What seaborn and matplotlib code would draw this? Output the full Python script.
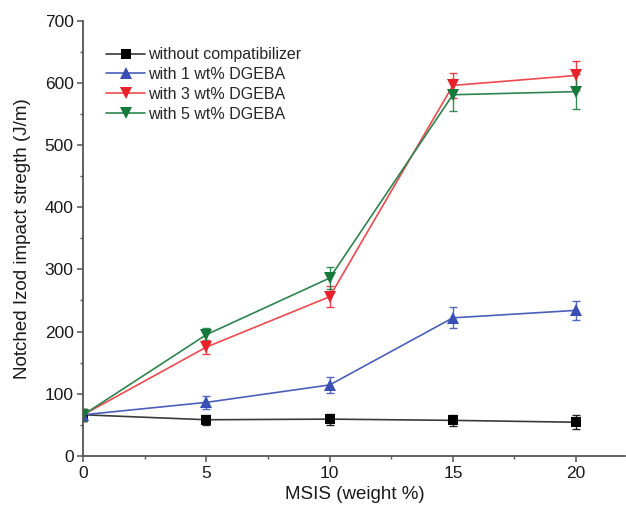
import numpy as np
import pandas as pd
import seaborn as sns
import matplotlib
matplotlib.use("Agg")
import matplotlib.pyplot as plt
from matplotlib.ticker import FixedLocator, MultipleLocator

# MSIS loading (weight %)
msis = [0, 5, 10, 15, 20]

# Notched Izod impact strength (J/m) and standard deviations
without_comp = [66, 58, 59, 57, 54]
without_comp_err = [10, 8, 9, 9, 11]
dgeba_1 = [66, 86, 114, 222, 234]
dgeba_1_err = [10, 10, 13, 17, 15]
dgeba_3 = [66, 175, 256, 596, 612]
dgeba_3_err = [10, 12, 17, 20, 23]
dgeba_5 = [66, 195, 286, 581, 586]
dgeba_5_err = [10, 11, 18, 26, 28]

series_names = ["without compatibilizer", "with 1 wt% DGEBA",
                "with 3 wt% DGEBA", "with 5 wt% DGEBA"]
series_vals = [without_comp, dgeba_1, dgeba_3, dgeba_5]
series_errs = [without_comp_err, dgeba_1_err, dgeba_3_err, dgeba_5_err]

colors = {"without compatibilizer": "#000000",
          "with 1 wt% DGEBA": "#3a4fb3",
          "with 3 wt% DGEBA": "#e8212b",
          "with 5 wt% DGEBA": "#16793c"}
line_colors = {"without compatibilizer": "#3a3a3a",
               "with 1 wt% DGEBA": "#4a5fbb",
               "with 3 wt% DGEBA": "#ec4a4f",
               "with 5 wt% DGEBA": "#2e8450"}
markers = {"without compatibilizer": "s",
           "with 1 wt% DGEBA": "^",
           "with 3 wt% DGEBA": "v",
           "with 5 wt% DGEBA": "v"}
msizes = {"without compatibilizer": 7, "with 1 wt% DGEBA": 8,
          "with 3 wt% DGEBA": 8, "with 5 wt% DGEBA": 8}

df = pd.DataFrame({
    "MSIS": np.tile(msis, len(series_names)),
    "strength": np.concatenate(series_vals),
    "err": np.concatenate(series_errs),
    "series": np.repeat(series_names, len(msis)),
})

sns.set_style("ticks")
plt.rcParams["font.family"] = ["Liberation Sans", "DejaVu Sans"]

fig = plt.figure(figsize=(6.26, 5.07), dpi=100)
ax = fig.add_axes([0.133, 0.101, 0.866, 0.858])

sns.lineplot(data=df, x="MSIS", y="strength", hue="series", style="series",
             hue_order=series_names, style_order=series_names,
             palette=line_colors, markers=markers, dashes=False,
             linewidth=1.2, markersize=8, markeredgewidth=0, ax=ax,
             zorder=3)

# darker marker faces on the series lines (one Line2D per series, hue order)
series_lines = list(ax.lines)
for line, name in zip(series_lines, series_names):
    line.set_markerfacecolor(colors[name])
    line.set_markeredgewidth(0)
    line.set_markersize(msizes[name])

# error bars beneath the lines and markers
for name in series_names:
    sub = df[df["series"] == name]
    ax.errorbar(sub["MSIS"], sub["strength"], yerr=sub["err"], fmt="none",
                ecolor=colors[name], elinewidth=1.0, capsize=3, capthick=1.0,
                alpha=0.85, zorder=2)

handles, labels = ax.get_legend_handles_labels()
for h, lab in zip(handles, labels):
    h.set_color(line_colors[lab])
    h.set_markerfacecolor(colors[lab])
    h.set_markeredgewidth(0)
    h.set_linewidth(1.2)
    h.set_markersize(msizes[lab])
ax.legend(handles, labels, loc="upper left", bbox_to_anchor=(0.022, 0.965),
          frameon=False, fontsize=11.5, handlelength=2.4, handletextpad=0.2,
          labelspacing=0.3, borderaxespad=0.3)

ax.set_xlim(0, 22)
ax.set_ylim(0, 700)
ax.set_xticks([0, 5, 10, 15, 20])
ax.set_yticks(np.arange(0, 701, 100))
ax.xaxis.set_minor_locator(FixedLocator([2.5, 7.5, 12.5, 17.5]))
ax.yaxis.set_minor_locator(MultipleLocator(50))

sns.despine(ax=ax)
for sp in ("left", "bottom"):
    ax.spines[sp].set_color("#555555")
    ax.spines[sp].set_linewidth(1.3)
ax.tick_params(axis="both", which="major", direction="out", length=4,
               width=1.1, color="#555555", labelsize=12.5, pad=3,
               labelcolor="#1a1a1a")
ax.tick_params(axis="both", which="minor", direction="out", length=2.5,
               width=1.0, color="#555555")

ax.set_xlabel("MSIS (weight %)", fontsize=13.5, color="#1a1a1a", labelpad=4)
ax.set_ylabel("Notched Izod impact stregth (J/m)", fontsize=13.5,
              color="#1a1a1a", labelpad=10)

fig.savefig("out.png", dpi=100)
